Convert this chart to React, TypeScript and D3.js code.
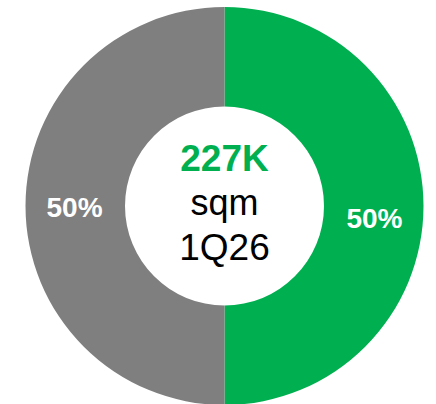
import React from "react";
import * as d3 from "d3";

const categories = ["Green", "Other"];
const values = [50, 50];
const labels = ["50%", "50%"];
const colors = ["#00B050", "#7F7F7F"];
const labelDy = [12, 1];
const centerLines = ["227K", "sqm", "1Q26"];

const W = 436;
const H = 404;
const cx = 224.5;
const cy = 206;
const outerR = 199;
const innerR = 99.5;

export default function App() {
  const pie = d3.pie<number>().sort(null).value((d) => d);
  const arcs = pie(values);
  const arc = d3.arc<d3.PieArcDatum<number>>().innerRadius(innerR).outerRadius(outerR);
  const labelArc = d3.arc<d3.PieArcDatum<number>>().innerRadius(150).outerRadius(150);
  return (
    <svg width={W} height={H} style={{ position: "absolute", left: 0, top: 0 }} fontFamily="'Liberation Sans', Arial, sans-serif">
      <g transform={`translate(${cx},${cy})`}>
        {arcs.map((a, i) => (
          <path key={categories[i]} d={arc(a) || ""} fill={colors[i]} />
        ))}
        {arcs.map((a, i) => {
          const [x, y] = labelArc.centroid(a);
          return (
            <text key={"l" + i} x={x} y={y + labelDy[i]} dy="0.35em" textAnchor="middle" fill="#fff" fontWeight="bold" fontSize={28}>
              {labels[i]}
            </text>
          );
        })}
        <text x={0} y={-35} textAnchor="middle" fill="#00B050" fontWeight="bold" fontSize={37}>{centerLines[0]}</text>
        <text x={0} y={9} textAnchor="middle" fill="#000" fontSize={36}>{centerLines[1]}</text>
        <text x={0} y={54} textAnchor="middle" fill="#000" fontSize={37}>{centerLines[2]}</text>
      </g>
    </svg>
  );
}
